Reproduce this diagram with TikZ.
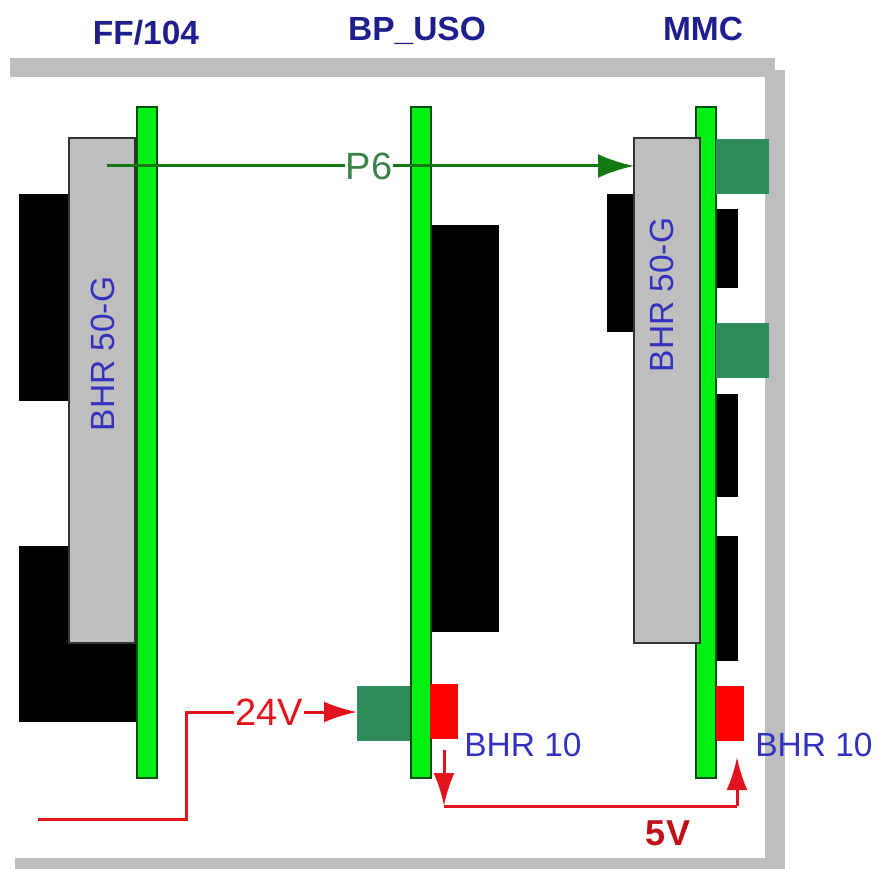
\documentclass[tikz,border=0pt]{standalone}
\usepackage{fontspec}
\setmainfont{Liberation Sans}
\usepackage{xcolor}
\usetikzlibrary{arrows.meta}
\definecolor{framegray}{RGB}{190,190,190}
\definecolor{boardgreen}{RGB}{0,240,20}
\definecolor{jackgreen}{RGB}{45,140,90}
\definecolor{linegreen}{RGB}{20,120,20}
\definecolor{textgreen}{RGB}{60,130,75}
\definecolor{titleblue}{RGB}{30,30,140}
\definecolor{partblue}{RGB}{50,50,190}
\definecolor{powerred}{RGB}{225,20,30}

\begin{document}
\begin{tikzpicture}[
  x=1pt, y=-1pt,
  part/.style={rectangle, anchor=north west, inner sep=0pt, outer sep=0pt},
  framebar/.style={part, fill=framegray},
  board/.style={part, draw=black!70!green, line width=2pt, fill=boardgreen, minimum width=20pt, minimum height=671pt},
  socket/.style={part, draw=black!80, line width=1.5pt, fill=framegray, minimum width=66pt, minimum height=505pt},
  chip/.style={part, fill=black},
  jack/.style={part, fill=jackgreen, minimum width=53pt, minimum height=55pt},
  regulator/.style={part, fill=red, minimum width=28pt, minimum height=55pt},
  title/.style={font=\fontsize{33.5}{36}\selectfont\bfseries, text=titleblue},
  partname/.style={font=\fontsize{33.5}{36}\selectfont, text=partblue},
  greenarrow/.style={-{Latex[length=36pt,width=24pt]}, line width=3pt, draw=linegreen},
  redarrow/.style={-{Latex[length=33pt,width=21pt]}, line width=3pt, draw=powerred},
  redline/.style={line width=3pt, draw=powerred}
]
\useasboundingbox (0,0) rectangle (878,869);

\node[framebar, minimum width=765pt, minimum height=19pt] (frametop) at (10,58) {};
\node[framebar, minimum width=20pt, minimum height=799pt] (frameright) at (765,70) {};
\node[framebar, minimum width=770pt, minimum height=11pt] (framebottom) at (15,858) {};

\node[title] (fftitle) at (146,33) {FF/104};
\node[title] (bptitle) at (417,31) {BP\_USO};
\node[title] (mmctitle) at (703,29) {MMC};

\node[chip, minimum width=49pt, minimum height=207pt] (ffchipa) at (19,194) {};
\node[chip, minimum width=117pt, minimum height=176pt] (ffchipb) at (19,546) {};
\node[socket] (ffsocket) at (69,138) {};
\node[board] (ffboard) at (137,107) {};

\node[chip, minimum width=69pt, minimum height=407pt] (bpchip) at (430,225) {};
\node[board] (bpboard) at (411,107) {};
\node[jack] (bpjack) at (357,686) {};
\node[regulator] (bpreg) at (430,684) {};

\node[chip, minimum width=27pt, minimum height=138pt] (mmcchipa) at (607,194) {};
\node[chip, minimum width=23pt, minimum height=79pt] (mmcchipb) at (715,209) {};
\node[chip, minimum width=23pt, minimum height=103pt] (mmcchipc) at (715,394) {};
\node[chip, minimum width=23pt, minimum height=125pt] (mmcchipd) at (715,536) {};
\node[board] (mmcboard) at (696,107) {};
\node[socket] (mmcsocket) at (634,138) {};
\node[jack] (mmcjacka) at (716,139) {};
\node[jack] (mmcjackb) at (716,323) {};
\node[regulator] (mmcreg) at (716,686) {};

\node[partname, rotate=90] (ffname) at (103,354) {BHR 50-G};
\node[partname, rotate=90] (mmcname) at (662,295) {BHR 50-G};
\node[partname] (bpregname) at (523,745) {BHR 10};
\node[partname] (mmcregname) at (814,745) {BHR 10};

\coordinate (p6start) at (107,166);
\coordinate (p6end) at (mmcsocket.west |- p6start);
\node[font=\fontsize{38}{40}\selectfont, text=textgreen, fill=white, inner sep=1pt] (p6) at (369,166) {P6};
\draw[line width=3pt, draw=linegreen] (p6start) -- (p6);
\draw[greenarrow] (p6) -- (p6end);

\coordinate (vinstart) at (38,819);
\coordinate (vinbend) at (186,819);
\node[font=\fontsize{38}{40}\selectfont, text=powerred, inner sep=1pt] (v24) at (269,712) {24V};
\draw[redline] (vinstart) -- (vinbend) |- (v24);
\draw[redarrow] (v24) -- (bpjack.west |- v24);

\coordinate (busstart) at (444,750);
\coordinate (busleft) at (444,806);
\coordinate (busright) at (737,806);
\coordinate (busend) at (737,757);
\draw[redarrow] (busstart) -- (busleft);
\draw[redline] (busleft) -- (busright);
\draw[redarrow] (busright) -- (busend);
\node[font=\fontsize{36}{38}\selectfont\bfseries, text=powerred!85!black] (v5) at (668,833) {5V};

\end{tikzpicture}
\end{document}
